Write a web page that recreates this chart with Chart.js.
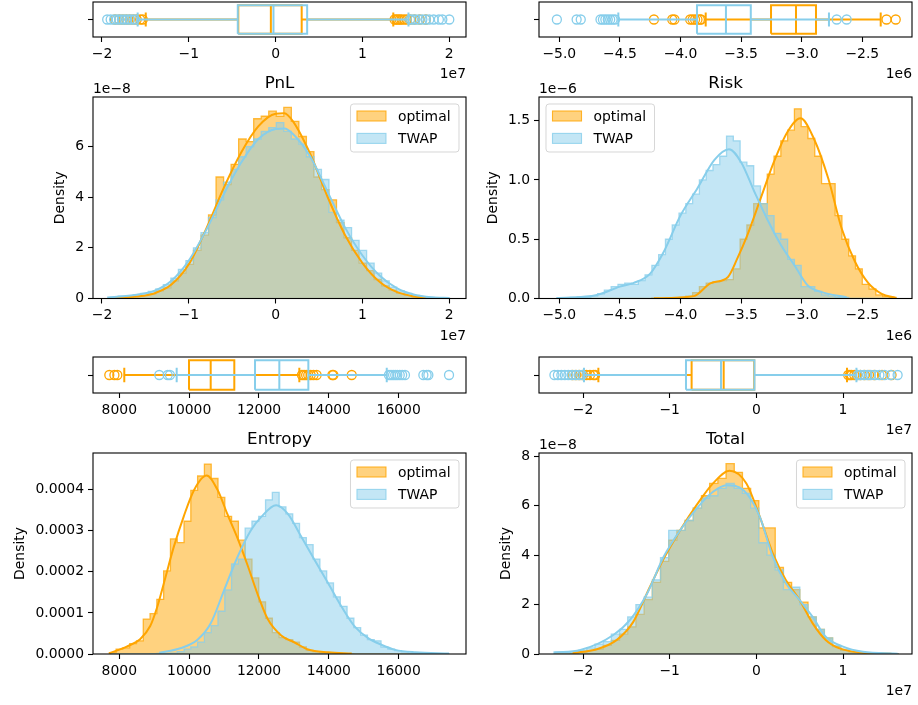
<!DOCTYPE html>
<html>
<head>
<meta charset="utf-8">
<script src="https://cdn.jsdelivr.net/npm/chart.js@4.4.1/dist/chart.umd.min.js"></script>
<style>
  body { margin: 0; background: #fff; }
  #fig { position: relative; width: 918px; height: 705px; overflow: hidden; }
  #fig canvas { position: absolute; }
</style>
</head>
<body>
<div id="fig"></div>
<script>
// ---------- PnL (x in 1e7, density in 1e-8) ----------
const pnlBinStart = -1.90, pnlBinWidth = 0.0867;
const pnlHistOptimal = [0.02,0.05,0.04,0.08,0.12,0.18,0.3,0.42,0.7,1.0, 1.35,1.9,2.5,3.3,4.8,4.5,5.3,6.3,6.2,7.1,
  7.2,7.4,7.2,7.55,7.0,6.4,5.8,4.8,4.3,3.9, 3.0,2.4,1.9,1.4,1.1,0.75,0.5,0.33,0.2,0.13, 0.07,0.04,0.01,0,0];
const pnlHistTwap = [0.05,0.09,0.1,0.15,0.2,0.28,0.38,0.55,0.8,1.15, 1.5,2.0,2.6,3.2,3.9,4.6,5.1,5.6,6.0,6.3,
  6.6,6.75,6.95,6.6,6.3,6.1,5.6,5.1,4.7,3.4, 3.1,2.8,2.3,1.9,1.4,1.0,0.7,0.45,0.3,0.2, 0.12,0.07,0.04,0.02,0.02];
const pnlKdeOptimalX = [-1.85,-1.6,-1.4,-1.2,-1.0,-0.8,-0.6,-0.4,-0.2,0.0,0.1,0.2,0.4,0.6,0.8,1.0,1.2,1.4,1.6,1.73];
const pnlKdeOptimalY = [0.03,0.08,0.2,0.55,1.35,2.75,4.35,5.75,6.8,7.3,7.32,7.0,5.7,4.0,2.5,1.4,0.65,0.25,0.08,0.03];
const pnlKdeTwapX = [-1.94,-1.6,-1.4,-1.2,-1.0,-0.8,-0.6,-0.4,-0.2,0.0,0.1,0.2,0.4,0.6,0.8,1.0,1.2,1.4,1.6,1.8,2.0];
const pnlKdeTwapY = [0.04,0.15,0.3,0.7,1.5,2.7,4.1,5.35,6.3,6.7,6.72,6.5,5.6,4.2,2.8,1.7,0.9,0.4,0.15,0.05,0.02];
// box stats: whisker low, q1, median, q3, whisker high
const pnlBoxOptimal = [-1.496,-0.43,-0.055,0.30,1.355];
const pnlBoxTwap = [-1.589,-0.436,-0.025,0.363,1.53];
const pnlOutOptimal = [-1.85,-1.80,-1.76,-1.72,-1.68,-1.64,-1.60,-1.56,-1.53,1.37,1.39,1.41,1.43,1.45,1.48,1.51,1.55,1.60,1.66,1.73];
const pnlOutTwap = [-1.94,-1.90,-1.86,-1.83,-1.80,-1.77,-1.74,-1.71,-1.68,-1.65,-1.62,1.55,1.58,1.61,1.65,1.69,1.73,1.77,1.82,1.88,1.92,2.0];
const pnlXTicks = [-2,-1,0,1,2];
const pnlYTicks = [0,2,4,6];

// ---------- Risk (x in 1e6, density in 1e-6) ----------
const riskBinStart = -5.02, riskBinWidth = 0.056;
const riskHistOptimal = [0,0,0,0,0,0,0,0,0,0, 0,0,0,0,0.005,0,0.005,0.005,0.01,0.02,
  0.05,0.1,0.13,0.14,0.15,0.16,0.25,0.5,0.62,0.8, 0.8,1.05,1.2,1.33,1.42,1.6,1.45,1.35,1.2,0.97,
  0.97,0.7,0.5,0.36,0.25,0.12,0.08,0.03,0.015,0.01];
const riskHistTwap = [0.007,0,0.01,0.015,0.01,0.02,0.04,0.07,0.1,0.12, 0.13,0.12,0.15,0.2,0.28,0.37,0.5,0.62,0.72,0.8,
  0.88,1.0,1.08,1.13,1.2,1.37,1.33,1.15,1.12,0.95, 0.8,0.7,0.55,0.5,0.33,0.28,0.1,0.1,0.06,0.03,
  0.02,0.01,0.01,0,0,0,0,0,0,0];
const riskKdeOptimalX = [-4.219,-3.89,-3.75,-3.61,-3.53,-3.45,-3.34,-3.23,-3.12,-3.01,-2.9,-2.78,-2.67,-2.56,-2.45,-2.34,-2.224];
const riskKdeOptimalY = [0.002,0.02,0.13,0.18,0.34,0.53,0.84,1.15,1.40,1.52,1.35,1.01,0.59,0.31,0.13,0.04,0.005];
const riskKdeTwapX = [-5.02,-4.69,-4.5,-4.39,-4.25,-4.14,-4.0,-3.86,-3.72,-3.6,-3.5,-3.39,-3.28,-3.17,-3.06,-2.95,-2.84,-2.629];
const riskKdeTwapY = [0.003,0.03,0.1,0.13,0.21,0.39,0.70,0.93,1.17,1.26,1.15,0.9,0.66,0.45,0.28,0.11,0.056,0.01];
const riskBoxOptimal = [-3.792,-3.253,-3.047,-2.882,-2.348];
const riskBoxTwap = [-4.513,-3.864,-3.625,-3.42,-2.775];
const riskOutOptimal = [-4.219,-4.068,-4.05,-3.92,-3.90,-3.88,-3.86,-3.84,-3.83,-2.30,-2.224];
const riskOutTwap = [-5.02,-4.857,-4.823,-4.66,-4.64,-4.62,-4.60,-4.58,-4.56,-4.54,-2.711,-2.629];
const riskXTicks = [-5,-4.5,-4,-3.5,-3,-2.5];
const riskYTicks = [0,0.5,1,1.5];

// ---------- Entropy (x plain, density in 1e-4) ----------
const entBinStart = 7714, entBinWidth = 194.5;
const entHistOptimal = [0.03,0.12,0.15,0.25,0.32,0.85,0.98,1.33,2.02,2.8, 2.71,3.23,3.98,4.33,4.62,4.27,3.81,3.35,3.23,2.77,
  2.31,1.85,1.27,0.87,0.52,0.4,0.35,0.29,0.17,0.09, 0.06,0.035,0.02,0.01,0.006,0.006,0,0,0,0, 0,0,0,0,0,0,0,0,0,0];
const entHistTwap = [0,0,0,0,0,0,0.006,0.012,0.012,0.023, 0.06,0.12,0.17,0.29,0.52,0.69,1.04,1.56,2.19,2.31,
  3.06,3.23,3.35,3.75,3.93,3.58,3.41,3.18,2.83,2.66, 2.31,2.02,1.73,1.39,1.16,0.87,0.64,0.46,0.35,0.32,
  0.17,0.12,0.08,0.05,0.02,0.012,0.006,0.006,0,0.003];
const entKdeOptimalX = [7714,8212,8596,8885,9077,9317,9558,9846,10135,10500,10808,11096,11385,11673,11962,12250,12635,13019,13404,13981,14655];
const entKdeOptimalY = [0.02,0.18,0.36,0.68,1.12,1.85,2.6,3.35,3.98,4.34,4.0,3.4,2.82,2.16,1.45,0.85,0.45,0.28,0.11,0.04,0.01];
const entKdeTwapX = [9145,9750,10231,10615,11000,11385,11769,12058,12490,12827,13212,13596,13981,14365,14750,15135,15519,15904,16481,17441];
const entKdeTwapY = [0.03,0.14,0.34,0.74,1.55,2.36,3.01,3.33,3.62,3.41,2.85,2.28,1.72,1.15,0.66,0.38,0.22,0.10,0.04,0.01];
const entBoxOptimal = [8143,9996,10617,11293,13155];
const entBoxTwap = [9643,11886,12582,13413,15658];
const entOutOptimal = [7714,7860,7943,13230,13290,13350,13410,13480,13560,13650,14100,14130,14655];
const entOutTwap = [9145,9386,9450,15720,15780,15840,15900,15960,16030,16100,16180,16706,16800,16849,17441];
const entXTicks = [8000,10000,12000,14000,16000];
const entYTicks = [0,1,2,3,4];

// ---------- Total (x in 1e7, density in 1e-8) ----------
const totBinStart = -2.335, totBinWidth = 0.09455;
const totHistOptimal = [0,0,0.03,0.08,0.15,0.2,0.35,0.55,0.8,1.1, 1.6,2.2,2.9,3.75,4.6,5.0,5.4,5.9,6.4,6.9,
  7.1,7.7,7.35,6.7,6.2,5.1,5.1,3.5,2.9,2.6, 2.1,1.5,1.0,0.65,0.3,0.15,0.08,0.05,0.03,0.02, 0.01,0.01];
const totHistTwap = [0.08,0.06,0.1,0.15,0.25,0.4,0.5,0.8,1.0,1.5, 2.0,2.3,3.0,3.9,5.0,5.0,5.4,5.9,6.3,6.4,
  6.7,6.9,6.7,6.5,5.9,4.5,4.0,3.4,2.6,2.7, 2.0,1.5,1.0,0.65,0.35,0.2,0.12,0.08,0.05,0.03, 0.02,0.01];
const totKdeOptimalX = [-2.12,-1.84,-1.61,-1.42,-1.23,-1.07,-0.88,-0.69,-0.50,-0.31,-0.115,0.04,0.19,0.34,0.50,0.65,0.80,0.96,1.23,1.56];
const totKdeOptimalY = [0.04,0.19,0.57,1.3,2.7,3.85,5.0,6.02,6.9,7.41,6.9,5.55,4.07,2.99,2.18,1.24,0.57,0.23,0.05,0.01];
const totKdeTwapX = [-2.33,-2.03,-1.65,-1.46,-1.26,-1.07,-0.88,-0.69,-0.50,-0.345,-0.15,0.04,0.19,0.34,0.50,0.65,0.80,1.0,1.23,1.63];
const totKdeTwapY = [0.06,0.16,0.77,1.37,2.45,3.93,5.0,5.88,6.56,6.83,6.63,5.55,3.93,2.86,2.18,1.5,0.7,0.3,0.09,0.01];
const totBoxOptimal = [-1.823,-0.747,-0.377,-0.025,1.046];
const totBoxTwap = [-1.989,-0.812,-0.408,-0.022,1.155];
const totOutOptimal = [-2.12,-2.08,-2.04,-2.0,-1.96,-1.92,-1.88,-1.86,1.06,1.08,1.1,1.13,1.16,1.2,1.25,1.3,1.36,1.45,1.56];
const totOutTwap = [-2.33,-2.29,-2.25,-2.21,-2.17,-2.13,-2.09,-2.05,-2.01,1.17,1.2,1.24,1.28,1.32,1.37,1.42,1.48,1.55,1.63];
const totXTicks = [-2,-1,0,1];
const totYTicks = [0,2,4,6,8];

const seriesNames = ['optimal', 'TWAP'];

// ---------- styling / layout ----------
const FONT = '"DejaVu Sans", "Liberation Sans", sans-serif';
const ORANGE = [255, 165, 0];
const SKY = [135, 206, 235];
const rgba = (c, a) => `rgba(${c[0]},${c[1]},${c[2]},${a})`;
const minus = s => String(s).replace('-', '\u2212');
const fmtInt = v => minus(v);
const fmt1 = v => minus(v.toFixed(1));
const fmtE4 = v => (v * 1e-4).toFixed(4);

const BOX_HALF = 0.41, CAP_HALF = 0.2;

const COLS = [
  { cl: 0, cw: 476, left: 93, right: 466 },
  { cl: 476, cw: 442, left: 539, right: 912 }
];
const ROWS = [
  { box: { ct: 0, ch: 90, top: 2, bottom: 37 }, hist: { ct: 55, ch: 295, top: 97, bottom: 298.5 } },
  { box: { ct: 345, ch: 95, top: 357, bottom: 393 }, hist: { ct: 410, ch: 295, top: 453, bottom: 654 } }
];

function stepPoints(start, width, heights) {
  const pts = [{ x: start, y: 0 }];
  heights.forEach((h, i) => {
    pts.push({ x: start + i * width, y: h }, { x: start + (i + 1) * width, y: h });
  });
  pts.push({ x: start + heights.length * width, y: 0 });
  return pts;
}
const zipXY = (xs, ys) => xs.map((x, i) => ({ x, y: ys[i] }));

function boxPoints(s) {
  const [lo, q1, md, q3, hi] = s;
  const gap = { x: NaN, y: NaN };
  return [
    { x: q1, y: -BOX_HALF }, { x: q3, y: -BOX_HALF }, { x: q3, y: BOX_HALF }, { x: q1, y: BOX_HALF }, { x: q1, y: -BOX_HALF }, gap,
    { x: md, y: -BOX_HALF }, { x: md, y: BOX_HALF }, gap,
    { x: lo, y: 0 }, { x: q1, y: 0 }, gap,
    { x: q3, y: 0 }, { x: hi, y: 0 }, gap,
    { x: lo, y: -CAP_HALF }, { x: lo, y: CAP_HALF }, gap,
    { x: hi, y: -CAP_HALF }, { x: hi, y: CAP_HALF }
  ];
}

function drawLegend(ctx, a, side) {
  ctx.font = `13.9px ${FONT}`;
  const tw = Math.max(...seriesNames.map(t => ctx.measureText(t).width));
  const w = 6.5 + 29 + 12 + tw + 8.5, h = 48;
  const x = side === 'left' ? a.left + 7 : a.right - 7 - w;
  const y = a.top + 7;
  ctx.beginPath();
  ctx.roundRect(x, y, w, h, 3);
  ctx.fillStyle = 'rgba(255,255,255,0.8)';
  ctx.fill();
  ctx.strokeStyle = 'rgba(204,204,204,0.8)';
  ctx.lineWidth = 1;
  ctx.stroke();
  [ORANGE, SKY].forEach((c, i) => {
    const cy = y + 12 + i * 22.4;
    ctx.fillStyle = rgba(c, 0.5);
    ctx.fillRect(x + 6.5, cy - 5, 29, 10);
    ctx.strokeStyle = rgba(c, 0.8);
    ctx.lineWidth = 1.1;
    ctx.strokeRect(x + 6.5, cy - 5, 29, 10);
    ctx.fillStyle = '#000';
    ctx.textAlign = 'left';
    ctx.textBaseline = 'middle';
    ctx.fillText(seriesNames[i], x + 47.5, cy + 1);
  });
}

const deco = {
  id: 'deco',
  afterDraw(chart, args, o) {
    const { ctx, chartArea: a } = chart;
    ctx.save();
    ctx.strokeStyle = '#000';
    ctx.lineWidth = 1.1;
    ctx.strokeRect(a.left, a.top, a.right - a.left, a.bottom - a.top);
    ctx.fillStyle = '#000';
    ctx.textBaseline = 'alphabetic';
    ctx.font = `13.9px ${FONT}`;
    if (o.xOff) { ctx.textAlign = 'right'; ctx.fillText(o.xOff, a.right, a.bottom + 41); }
    if (o.yOff) { ctx.textAlign = 'left'; ctx.fillText(o.yOff, a.left, a.top - 4); }
    if (o.ylabel) {
      const lw = Math.max(...chart.scales.y.ticks.map(t => ctx.measureText(t.label).width));
      const lx = a.left - 9 - lw - 15;
      ctx.save();
      ctx.translate(lx, (a.top + a.bottom) / 2);
      ctx.rotate(-Math.PI / 2);
      ctx.textAlign = 'center';
      ctx.textBaseline = 'middle';
      ctx.fillText(o.ylabel, 0, 0);
      ctx.restore();
    }
    if (o.title) {
      ctx.font = `16.7px ${FONT}`;
      ctx.textAlign = 'center';
      ctx.fillText(o.title, (a.left + a.right) / 2, a.top - 9);
    }
    if (o.legend) drawLegend(ctx, a, o.legend);
    ctx.restore();
  }
};

function axis(min, max, ticks, fmt, size, horizontal) {
  return {
    type: 'linear', min, max,
    afterBuildTicks: s => { s.ticks = ticks.map(v => ({ value: v })); },
    afterFit: s => {
      if (horizontal) { s.height = size; s.paddingLeft = 0; s.paddingRight = 0; }
      else { s.width = size; s.paddingTop = 0; s.paddingBottom = 0; }
    },
    grid: { drawOnChartArea: false, drawTicks: true, tickLength: 5, tickWidth: 1.1, tickColor: '#000', color: '#000' },
    border: { display: false },
    ticks: { callback: v => fmt(v), color: '#000', padding: 4, maxRotation: 0, minRotation: 0, autoSkip: false,
      font: { family: FONT, size: 13.9 } }
  };
}

function makeChart(col, r, datasets, xs, ys, decoOpts) {
  const cv = document.createElement('canvas');
  cv.width = col.cw; cv.height = r.ch;
  cv.style.left = col.cl + 'px'; cv.style.top = r.ct + 'px';
  cv.style.width = col.cw + 'px'; cv.style.height = r.ch + 'px';
  document.getElementById('fig').appendChild(cv);
  new Chart(cv, {
    type: 'line',
    data: { datasets },
    options: {
      responsive: false,
      animation: false,
      events: [],
      layout: { autoPadding: false, padding: { left: 0, top: r.top - r.ct, right: col.cl + col.cw - col.right, bottom: 0 } },
      scales: {
        x: axis(xs.min, xs.max, xs.ticks, xs.fmt, r.ct + r.ch - r.bottom, true),
        y: axis(ys.min, ys.max, ys.ticks, ys.fmt, col.left - col.cl, false)
      },
      plugins: { legend: { display: false }, tooltip: { enabled: false }, deco: decoOpts }
    },
    plugins: [deco]
  });
}

const panels = [
  { col: 0, row: 0, title: 'PnL', xOff: '1e7', yOff: '1e\u22128', legend: 'right',
    x: { min: -2.1035, max: 2.1925, ticks: pnlXTicks, fmt: fmtInt },
    y: { min: 0, max: 7.96, ticks: pnlYTicks, fmt: fmtInt },
    bins: [pnlBinStart, pnlBinWidth], hist: [pnlHistOptimal, pnlHistTwap],
    kde: [[pnlKdeOptimalX, pnlKdeOptimalY], [pnlKdeTwapX, pnlKdeTwapY]],
    box: [pnlBoxOptimal, pnlBoxTwap], out: [pnlOutOptimal, pnlOutTwap] },
  { col: 1, row: 0, title: 'Risk', xOff: '1e6', yOff: '1e\u22126', legend: 'left',
    x: { min: -5.1675, max: -2.0898, ticks: riskXTicks, fmt: fmt1 },
    y: { min: 0, max: 1.70, ticks: riskYTicks, fmt: fmt1 },
    bins: [riskBinStart, riskBinWidth], hist: [riskHistOptimal, riskHistTwap],
    kde: [[riskKdeOptimalX, riskKdeOptimalY], [riskKdeTwapX, riskKdeTwapY]],
    box: [riskBoxOptimal, riskBoxTwap], out: [riskOutOptimal, riskOutTwap] },
  { col: 0, row: 1, title: 'Entropy', xOff: '', yOff: '', legend: 'right',
    x: { min: 7247, max: 17927, ticks: entXTicks, fmt: fmtInt },
    y: { min: 0, max: 4.89, ticks: entYTicks, fmt: fmtE4 },
    bins: [entBinStart, entBinWidth], hist: [entHistOptimal, entHistTwap],
    kde: [[entKdeOptimalX, entKdeOptimalY], [entKdeTwapX, entKdeTwapY]],
    box: [entBoxOptimal, entBoxTwap], out: [entOutOptimal, entOutTwap] },
  { col: 1, row: 1, title: 'Total', xOff: '1e7', yOff: '1e\u22128', legend: 'right',
    x: { min: -2.508, max: 1.796, ticks: totXTicks, fmt: fmtInt },
    y: { min: 0, max: 8.13, ticks: totYTicks, fmt: fmtInt },
    bins: [totBinStart, totBinWidth], hist: [totHistOptimal, totHistTwap],
    kde: [[totKdeOptimalX, totKdeOptimalY], [totKdeTwapX, totKdeTwapY]],
    box: [totBoxOptimal, totBoxTwap], out: [totOutOptimal, totOutTwap] }
];

const COLORS = [ORANGE, SKY];

panels.forEach(p => {
  const col = COLS[p.col], rows = ROWS[p.row];

  // box strip
  const boxSets = [];
  p.box.forEach((s, i) => {
    const c = COLORS[i];
    boxSets.push({
      data: boxPoints(s), borderColor: rgba(c, 1), borderWidth: 2, pointRadius: 0,
      fill: false, spanGaps: false, order: 4 - 2 * i
    });
    boxSets.push({
      data: p.out[i].map(x => ({ x, y: 0 })), showLine: false, pointStyle: 'circle', pointRadius: 4.5,
      pointBorderWidth: 1.3, pointBorderColor: rgba(c, 1), pointBackgroundColor: 'rgba(0,0,0,0)',
      order: 3 - 2 * i
    });
  });
  makeChart(col, rows.box, boxSets, p.x,
    { min: -0.5, max: 0.5, ticks: [0], fmt: () => '' },
    { xOff: p.xOff });

  // histogram + kde
  const histSets = [];
  p.hist.forEach((h, i) => {
    const c = COLORS[i];
    histSets.push({
      data: stepPoints(p.bins[0], p.bins[1], h), borderColor: rgba(c, 0.75), backgroundColor: rgba(c, 0.5),
      borderWidth: 1.3, pointRadius: 0, fill: 'origin', order: 6 - i
    });
  });
  p.kde.forEach((k, i) => {
    const c = COLORS[i];
    histSets.push({
      data: zipXY(k[0], k[1]), borderColor: rgba(c, 1), borderWidth: 2, pointRadius: 0,
      fill: false, cubicInterpolationMode: 'monotone', order: 2 - i
    });
  });
  makeChart(col, rows.hist, histSets, p.x, p.y,
    { title: p.title, xOff: p.xOff, yOff: p.yOff, ylabel: 'Density', legend: p.legend });
});
</script>
</body>
</html>
